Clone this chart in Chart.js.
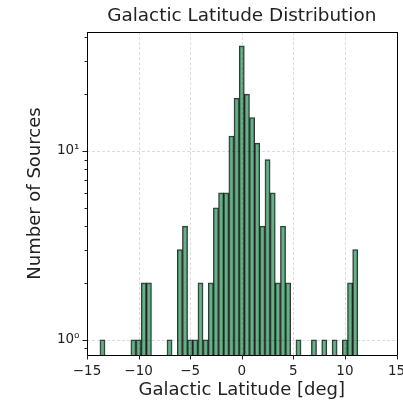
<!DOCTYPE html>
<html><head><meta charset="utf-8">
<script src="https://cdn.jsdelivr.net/npm/chart.js@4/dist/chart.umd.min.js"></script>
<style>html,body{margin:0;padding:0;background:#fff;}canvas{display:block;}</style>
</head><body>
<canvas id="c" width="403" height="403"></canvas>
<script>
// Histogram bins (centres, deg) with non-zero counts
const binCenters = [-13.5, -10.5, -10.0, -9.5, -9.0, -7.0, -6.0, -5.5, -5.0, -4.5, -4.0, -3.5, -3.0, -2.5, -2.0, -1.5, -1.0, -0.5, 0.0, 0.5, 1.0, 1.5, 2.0, 2.5, 3.0, 3.5, 4.0, 4.5, 5.5, 7.0, 8.0, 9.0, 10.0, 10.5, 11.0];
const counts     = [1, 1, 1, 2, 2, 1, 3, 4, 1, 1, 2, 1, 2, 5, 6, 6, 12, 19, 36, 20, 15, 11, 4, 9, 6, 2, 4, 2, 1, 1, 1, 1, 1, 2, 3];
const xTicks = [-15, -10, -5, 0, 5, 10, 15];
const yMajorTicks = [1, 10];
const yMinorTicks = [0.9, 2, 3, 4, 5, 6, 7, 8, 9, 20, 30, 40];
const yTickLabels = {1: '10\u2070', 10: '10\u00B9'};
const titleText = 'Galactic Latitude Distribution';
const xLabel = 'Galactic Latitude [deg]';
const yLabel = 'Number of Sources';

const FONT = 'DejaVu Sans';
const TXT = '#222';

const decor = {
  id: 'decor',
  beforeDraw(chart) {
    const ctx = chart.ctx;
    ctx.save(); ctx.fillStyle = '#fff'; ctx.fillRect(0, 0, chart.width, chart.height); ctx.restore();
  },
  afterDatasetsDraw(chart) {
    const {ctx, chartArea: a, scales: {x, y}} = chart;
    const r = v => Math.round(v) + 0.5;
    ctx.save();
    ctx.strokeStyle = 'rgba(0,0,0,0.18)'; ctx.lineWidth = 0.8; ctx.setLineDash([3, 2]);
    xTicks.forEach(v => {
      if (v > x.min && v < x.max) { const p = r(x.getPixelForValue(v)); ctx.beginPath(); ctx.moveTo(p, a.top); ctx.lineTo(p, a.bottom); ctx.stroke(); }
    });
    yMajorTicks.forEach(v => {
      const p = r(y.getPixelForValue(v)); ctx.beginPath(); ctx.moveTo(a.left, p); ctx.lineTo(a.right, p); ctx.stroke();
    });
    ctx.setLineDash([]);
    ctx.strokeStyle = '#000'; ctx.lineWidth = 1;
    ctx.strokeRect(r(a.left), r(a.top), Math.round(a.right - a.left), Math.round(a.bottom - a.top));
    ctx.strokeStyle = '#222';
    xTicks.forEach(v => { const p = r(x.getPixelForValue(v)); ctx.beginPath(); ctx.moveTo(p, a.bottom); ctx.lineTo(p, a.bottom + 4.5); ctx.stroke(); });
    yMajorTicks.forEach(v => { const p = r(y.getPixelForValue(v)); ctx.beginPath(); ctx.moveTo(a.left, p); ctx.lineTo(a.left - 4.5, p); ctx.stroke(); });
    yMinorTicks.forEach(v => { const p = r(y.getPixelForValue(v)); ctx.beginPath(); ctx.moveTo(a.left, p); ctx.lineTo(a.left - 2.5, p); ctx.stroke(); });
    ctx.restore();
  }
};

new Chart(document.getElementById('c'), {
  type: 'bar',
  data: {
    datasets: [{
      data: binCenters.map((c, i) => ({x: c, y: counts[i]})),
      backgroundColor: 'rgba(46,139,87,0.7)',
      borderColor: 'rgba(0,0,0,0.8)',
      borderWidth: 1,
      barPercentage: 1,
      categoryPercentage: 1
    }]
  },
  options: {
    responsive: false,
    animation: false,
    devicePixelRatio: 1,
    layout: {padding: {left: 0, right: 6.5, top: 0, bottom: 0}},
    plugins: {
      legend: {display: false},
      tooltip: {enabled: false},
      title: {display: true, fullSize: false, text: titleText, color: TXT, font: {family: FONT, size: 18.4, weight: 'normal'}, padding: {top: 5, bottom: 5}}
    },
    scales: {
      x: {
        type: 'linear', min: -15, max: 15, offset: false,
        afterBuildTicks: s => { s.ticks = xTicks.map(v => ({value: v})); },
        afterFit: s => { s.height = 48; s.paddingLeft = 0; s.paddingRight = 0; },
        grid: {display: false, drawTicks: false},
        border: {display: false},
        ticks: {color: TXT, font: {family: FONT, size: 13.5}, padding: 8, autoSkip: false, maxRotation: 0,
          callback: v => String(v).replace('-', '\u2212')},
        title: {display: true, text: xLabel, color: TXT, font: {family: FONT, size: 18}, padding: {top: 0, bottom: 1.5}}
      },
      y: {
        type: 'logarithmic', min: 0.83, max: 42.6,
        afterBuildTicks: s => { s.ticks = [...yMinorTicks, ...yMajorTicks].sort((a, b) => a - b).map(v => ({value: v})); },
        afterFit: s => { s.width = 87; s.paddingTop = 0; s.paddingBottom = 0; },
        grid: {display: false, drawTicks: false},
        border: {display: false},
        ticks: {color: TXT, font: {family: FONT, size: 13.5}, padding: 7.5, autoSkip: false,
          callback: v => yTickLabels[v] || ''},
        title: {display: true, text: yLabel, color: TXT, font: {family: FONT, size: 18}, padding: {top: 25, bottom: 0}}
      }
    }
  },
  plugins: [decor]
});
</script>
</body></html>
